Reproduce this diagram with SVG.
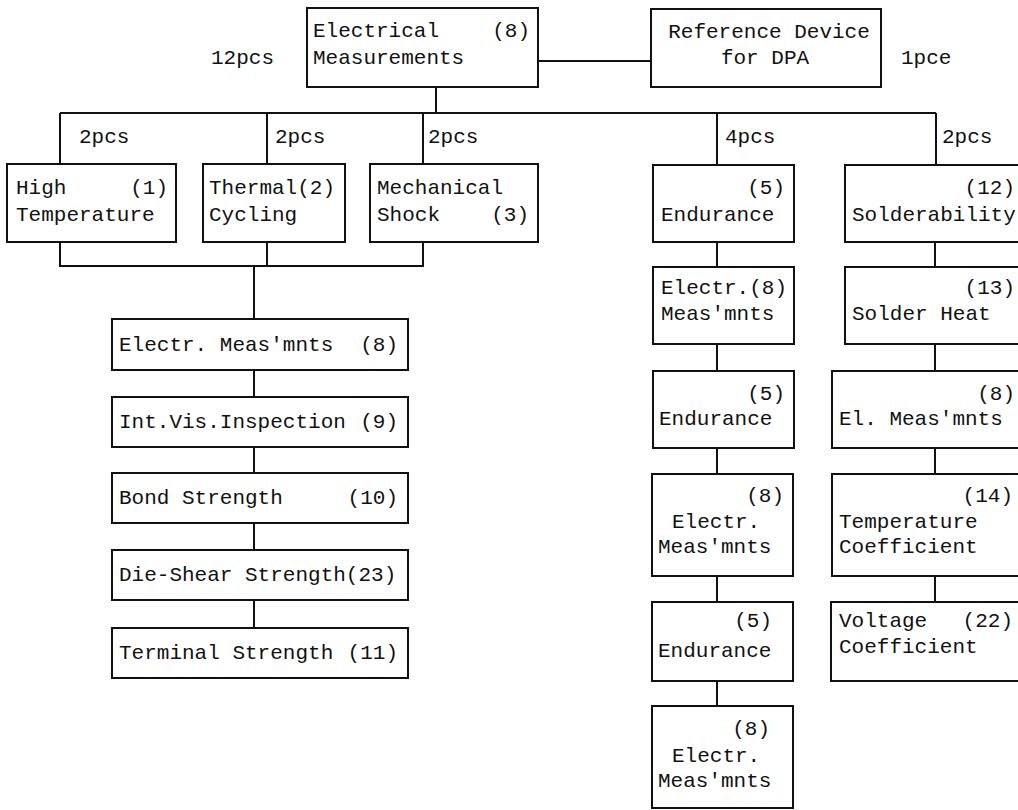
<svg xmlns="http://www.w3.org/2000/svg" width="1018" height="810" viewBox="0 0 1018 810">
<style>
rect{fill:#fff;stroke:#111;stroke-width:2}
line,path{stroke:#111;stroke-width:2;fill:none}
text{font-family:"Liberation Mono","DejaVu Sans Mono",monospace;font-size:21px;fill:#111}
.e{text-anchor:end}
.m{text-anchor:middle}
</style>
<rect x="0" y="0" width="1018" height="810" style="stroke:none"/>
<g id="connectors">
<line x1="538" y1="61" x2="651" y2="61"/>
<line x1="436" y1="87" x2="436" y2="113"/>
<line x1="60" y1="113" x2="936" y2="113"/>
<line x1="60" y1="113" x2="60" y2="164"/>
<line x1="267" y1="113" x2="267" y2="164"/>
<line x1="423" y1="113" x2="423" y2="164"/>
<line x1="717" y1="113" x2="717" y2="165"/>
<line x1="936" y1="113" x2="936" y2="165"/>
<path d="M60 242V266H423V242M267 242V266M254 266V319"/>
<line x1="254" y1="370" x2="254" y2="397"/>
<line x1="254" y1="447" x2="254" y2="473"/>
<line x1="254" y1="523" x2="254" y2="550"/>
<line x1="254" y1="600" x2="254" y2="628"/>
<line x1="717" y1="242" x2="717" y2="267"/>
<line x1="717" y1="344" x2="717" y2="371"/>
<line x1="717" y1="448" x2="717" y2="474"/>
<line x1="717" y1="576" x2="717" y2="602"/>
<line x1="717" y1="681" x2="717" y2="706"/>
<line x1="935" y1="242" x2="935" y2="267"/>
<line x1="935" y1="344" x2="935" y2="371"/>
<line x1="935" y1="448" x2="935" y2="474"/>
<line x1="935" y1="576" x2="935" y2="602"/>
</g>
<g id="labels">
<text x="211" y="64">12pcs</text>
<text x="901" y="64">1pce</text>
<text x="79" y="143">2pcs</text>
<text x="275" y="143">2pcs</text>
<text x="428" y="143">2pcs</text>
<text x="725" y="143">4pcs</text>
<text x="942" y="143">2pcs</text>
</g>
<g id="n-elec">
<rect x="307" y="8" width="231" height="79"/>
<text x="313" y="37">Electrical</text><text class="e" x="530" y="37">(8)</text>
<text x="313" y="64">Measurements</text>
</g>
<g id="n-ref">
<rect x="651" y="9" width="230" height="78"/>
<text class="m" x="769" y="38">Reference Device</text>
<text class="m" x="765" y="64">for DPA</text>
</g>
<g id="n-high">
<rect x="7" y="164" width="169" height="78"/>
<text x="16" y="194">High</text><text class="e" x="168" y="194">(1)</text>
<text x="16" y="221">Temperature</text>
</g>
<g id="n-thermal">
<rect x="203" y="164" width="142" height="78"/>
<text x="209" y="194">Thermal(2)</text>
<text x="209" y="221">Cycling</text>
</g>
<g id="n-mech">
<rect x="370" y="164" width="168" height="78"/>
<text x="377" y="194">Mechanical</text>
<text x="377" y="221">Shock</text><text class="e" x="529" y="221">(3)</text>
</g>
<g id="n-l1">
<rect x="112" y="319" width="296" height="51"/>
<text x="119" y="351">Electr. Meas'mnts</text><text class="e" x="398" y="351">(8)</text>
</g>
<g id="n-l2">
<rect x="112" y="397" width="296" height="50"/>
<text x="119" y="428">Int.Vis.Inspection</text><text class="e" x="398" y="428">(9)</text>
</g>
<g id="n-l3">
<rect x="112" y="473" width="296" height="50"/>
<text x="119" y="504">Bond Strength</text><text class="e" x="398" y="504">(10)</text>
</g>
<g id="n-l4">
<rect x="112" y="550" width="296" height="50"/>
<text x="119" y="581">Die-Shear Strength(23)</text>
</g>
<g id="n-l5">
<rect x="112" y="628" width="296" height="50"/>
<text x="119" y="659">Terminal Strength</text><text class="e" x="398" y="659">(11)</text>
</g>
<g id="n-c4a">
<rect x="653" y="165" width="141" height="77"/>
<text class="e" x="785" y="194">(5)</text>
<text x="661" y="221">Endurance</text>
</g>
<g id="n-c4b">
<rect x="653" y="267" width="141" height="77"/>
<text x="661" y="294">Electr.(8)</text>
<text x="661" y="320">Meas'mnts</text>
</g>
<g id="n-c4c">
<rect x="653" y="371" width="141" height="77"/>
<text class="e" x="785" y="400">(5)</text>
<text x="659" y="425">Endurance</text>
</g>
<g id="n-c4d">
<rect x="652" y="474" width="141" height="102"/>
<text class="e" x="784" y="502">(8)</text>
<text x="672" y="528">Electr.</text>
<text x="658" y="553">Meas'mnts</text>
</g>
<g id="n-c4e">
<rect x="652" y="602" width="141" height="79"/>
<text class="e" x="772" y="627">(5)</text>
<text x="658" y="657">Endurance</text>
</g>
<g id="n-c4f">
<rect x="652" y="706" width="141" height="102"/>
<text class="e" x="770" y="735">(8)</text>
<text x="672" y="762">Electr.</text>
<text x="658" y="787">Meas'mnts</text>
</g>
<g id="n-c5a">
<rect x="845" y="165" width="185" height="77"/>
<text class="e" x="1015" y="194">(12)</text>
<text x="852" y="221">Solderability</text>
</g>
<g id="n-c5b">
<rect x="845" y="267" width="185" height="77"/>
<text class="e" x="1015" y="294">(13)</text>
<text x="852" y="320">Solder Heat</text>
</g>
<g id="n-c5c">
<rect x="832" y="371" width="198" height="77"/>
<text class="e" x="1015" y="400">(8)</text>
<text x="839" y="425">El. Meas'mnts</text>
</g>
<g id="n-c5d">
<rect x="832" y="474" width="198" height="102"/>
<text class="e" x="1013" y="502">(14)</text>
<text x="839" y="528">Temperature</text>
<text x="839" y="553">Coefficient</text>
</g>
<g id="n-c5e">
<rect x="831" y="602" width="199" height="79"/>
<text x="839" y="627">Voltage</text><text class="e" x="1013" y="627">(22)</text>
<text x="839" y="653">Coefficient</text>
</g>
</svg>
